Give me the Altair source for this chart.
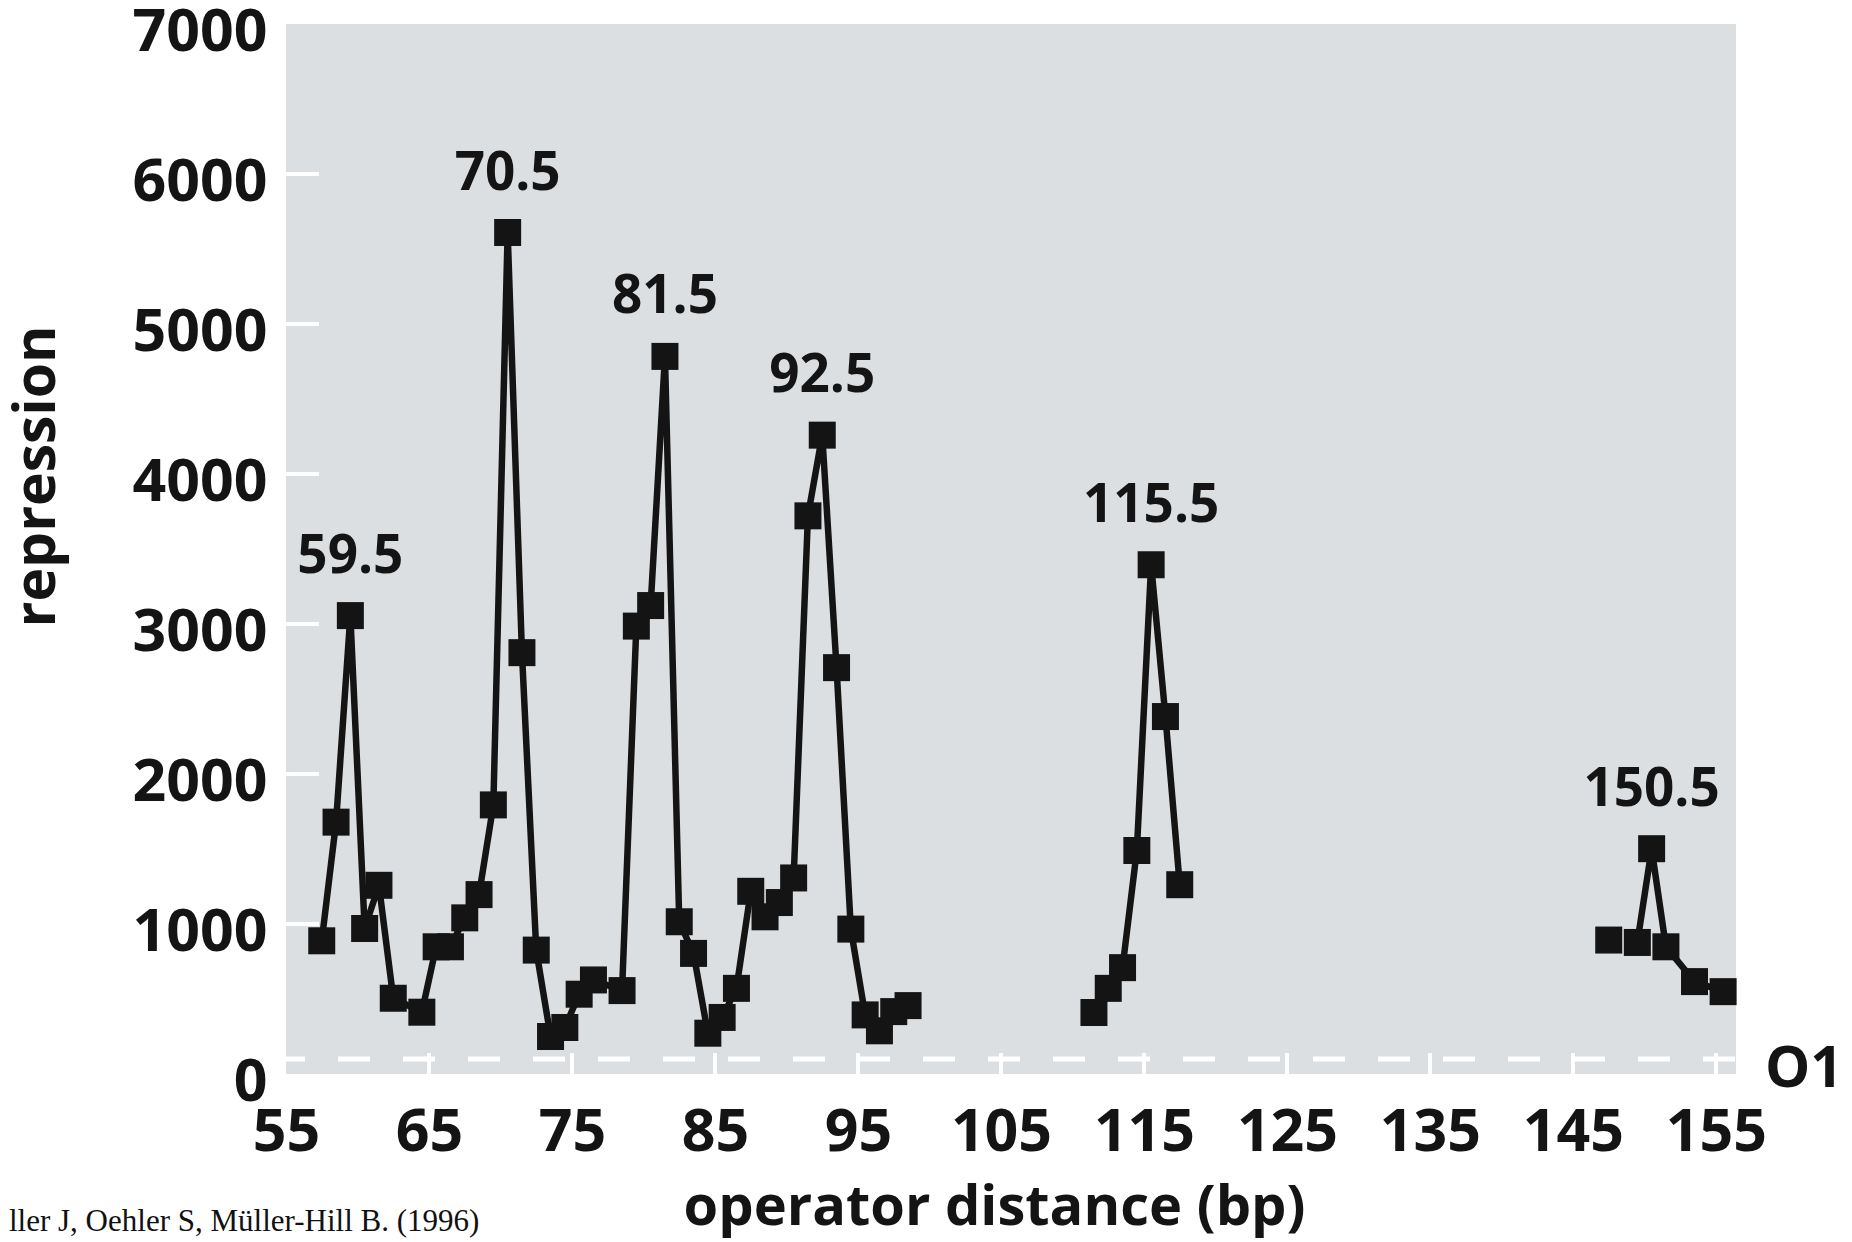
import altair as alt
import pandas as pd

# ---- data ----
x_bp = [57.5, 58.5, 59.5, 60.5, 61.5, 62.5, 64.5, 65.5, 66.5, 67.5, 68.5, 69.5,
        70.5, 71.5, 72.5, 73.5, 74.5, 75.5, 76.5, 78.5, 79.5, 80.5, 81.5, 82.5,
        83.5, 84.5, 85.5, 86.5, 87.5, 88.5, 89.5, 90.5, 91.5, 92.5, 93.5, 94.5,
        95.5, 96.5, 97.5, 98.5,
        111.5, 112.5, 113.5, 114.5, 115.5, 116.5, 117.5,
        147.5,
        149.5, 150.5, 151.5, 153.5, 155.5]
repression = [888, 1679, 3056, 970, 1258, 505, 412, 848, 848, 1041, 1196, 1794,
              5610, 2809, 826, 250, 310, 532, 627, 556, 2986, 3123, 4784, 1015,
              804, 272, 377, 571, 1218, 1048, 1143, 1307, 3721, 4259, 2709, 966,
              394, 288, 416, 456,
              410, 571, 709, 1490, 3395, 2383, 1262,
              893,
              877, 1502, 848, 616, 549]
segment = [1] * 40 + [2] * 7 + [3] + [4] * 5

peak_bp = [59.5, 70.5, 81.5, 92.5, 115.5, 150.5]
peak_text = ["59.5", "70.5", "81.5", "92.5", "115.5", "150.5"]

x_ticks = [55, 65, 75, 85, 95, 105, 115, 125, 135, 145, 155]
y_ticks = [0, 1000, 2000, 3000, 4000, 5000, 6000, 7000]
o1_level = [100]
o1_text = ["O1"]
caption = ["ller J, Oehler S, Müller-Hill B. (1996)"]

# ---- styling ----
W, H = 1450, 1050
BG = "#dcdfe1"
INK = "#141414"
SANS = "Open Sans"

df = pd.DataFrame({"bp": x_bp, "rep": repression, "seg": segment})
peaks = df[df["bp"].isin(peak_bp)].copy()
peaks["label"] = peaks["bp"].map(dict(zip(peak_bp, peak_text)))

xs = alt.Scale(domain=[55, 156.4], nice=False, zero=False)
ys = alt.Scale(domain=[0, 7000], nice=False)

x_axis = alt.Axis(values=x_ticks, format="d", title="operator distance (bp)",
                  domain=False, ticks=False, tickSize=0, grid=False,
                  labelFont=SANS, labelFontWeight="bold", labelFontSize=59,
                  labelColor=INK, labelPadding=76, labelBaseline="alphabetic",
                  labelFlush=False, labelOverlap=False, titleFont=SANS,
                  titleFontWeight="bold", titleFontSize=56, titleColor=INK,
                  titleX=708, titleY=150, titleBaseline="alphabetic",
                  titleAlign="center")
y_axis = alt.Axis(values=y_ticks, format="d", title="repression", domain=False,
                  ticks=False, tickSize=0, grid=False, labelFont=SANS,
                  labelFontWeight="bold", labelFontSize=59, labelColor=INK,
                  labelPadding=19, labelBaseline="middle", labelOffset=8,
                  labelFlush=False, labelOverlap=False, titleFont=SANS,
                  titleFontWeight="bold", titleFontSize=57, titleColor=INK,
                  titleX=-220, titleY=452, titleBaseline="bottom",
                  titleAlign="center", titleAngle=270)

o1_df = pd.DataFrame({"v": o1_level, "t": o1_text})

line = alt.Chart(df).mark_line(color=INK, strokeWidth=6.5).encode(
    x=alt.X("bp:Q", scale=xs, axis=x_axis),
    y=alt.Y("rep:Q", scale=ys, axis=y_axis),
    detail="seg:N",
)

o1_line = alt.Chart(o1_df).mark_rule(
    color="white", strokeWidth=5, strokeDash=[32, 33], strokeDashOffset=13
).encode(y=alt.Y("v:Q"), x=alt.value(0), x2=alt.value(W))

ytick_rules = alt.Chart(pd.DataFrame({"v": y_ticks[1:-1]})).mark_rule(
    color="white", strokeWidth=4
).encode(y=alt.Y("v:Q"), x=alt.value(0), x2=alt.value(33))

xtick_rules = alt.Chart(pd.DataFrame({"v": x_ticks[1:]})).mark_rule(
    color="white", strokeWidth=4
).encode(x=alt.X("v:Q"), y=alt.value(H - 21), y2=alt.value(H))

points = alt.Chart(df).mark_square(color=INK, size=729, opacity=1).encode(
    x=alt.X("bp:Q"),
    y=alt.Y("rep:Q"),
)

labels = alt.Chart(peaks).mark_text(
    font=SANS, fontWeight="bold", fontSize=53,
    color=INK, baseline="alphabetic", dy=-43
).encode(
    x=alt.X("bp:Q"),
    y=alt.Y("rep:Q"),
    text="label:N",
)

o1_label = alt.Chart(o1_df).mark_text(
    align="left", baseline="alphabetic", dx=29, dy=28, font=SANS,
    fontWeight="bold", fontSize=57, color=INK
).encode(x=alt.value(W), y=alt.Y("v:Q"), text="t:N")

cap = alt.Chart(pd.DataFrame({"t": caption})).mark_text(
    align="left", baseline="alphabetic", font="Liberation Serif", fontSize=31,
    color="#111111"
).encode(x=alt.value(-277), y=alt.value(1207), text="t:N")

chart = alt.layer(
    line, o1_line, ytick_rules, xtick_rules, points, labels, o1_label, cap
).properties(
    width=W, height=H,
    padding={"left": 278, "top": 16, "right": 108, "bottom": 168},
    autosize=alt.AutoSizeParams(type="none"),
    background="white",
).configure_view(fill=BG, strokeWidth=0)

chart.save("out.html", embed_options={"renderer": "svg", "actions": False})
